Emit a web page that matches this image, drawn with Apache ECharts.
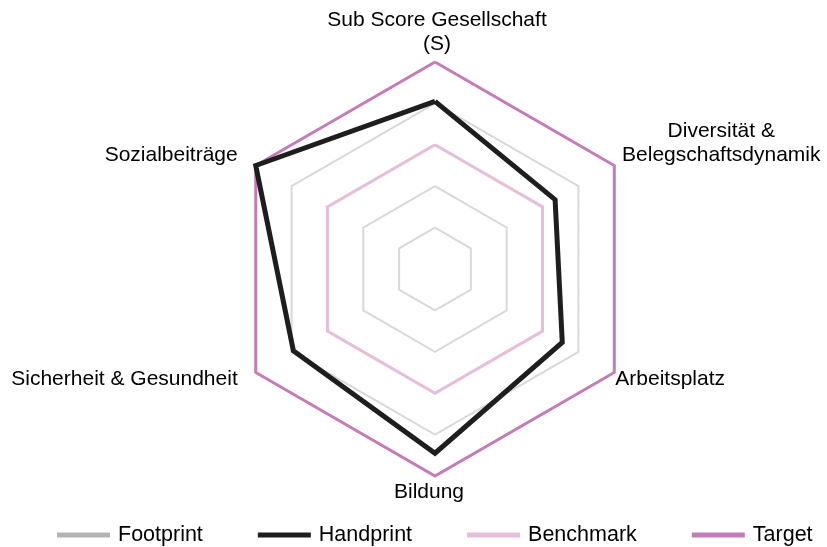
<!DOCTYPE html>
<html>
<head>
<meta charset="utf-8">
<script src="https://cdn.jsdelivr.net/npm/echarts@6/dist/echarts.min.js"></script>
<style>html,body{margin:0;padding:0;background:#fff}#c{width:827px;height:547px}</style>
</head>
<body>
<div id="c"></div>
<script>
// Indicators in ECharts order (top, then counter-clockwise)
var indicators = ['Sub Score Gesellschaft\n(S)', 'Sozialbeiträge', 'Sicherheit & Gesundheit', 'Bildung', 'Arbeitsplatz', 'Diversität &\nBelegschaftsdynamik'];
var seriesNames = ['Footprint', 'Handprint', 'Benchmark', 'Target'];
var footprint = [];
var handprint = [0.81, 1.0, 0.79, 0.89, 0.71, 0.67];
var benchmark = [0.6, 0.6, 0.6, 0.6, 0.6, 0.6];
var target = [1, 1, 1, 1, 1, 1];
var maxValue = 1;

var colors = {Footprint: '#b3b3b3', Handprint: '#1e1e1e', Benchmark: '#e6bedb', Target: '#c47bb7'};
var widths = {Footprint: 4, Handprint: 5, Benchmark: 3, Target: 3};

var cx = 435, cy = 269, R = 207;
var font = '"Liberation Sans", Arial, sans-serif';

// label placement per indicator: [extra radial gap, dx, dy, align, verticalAlign]
var labelPlace = [
  [6, 2, 0, 'center', 'bottom'],
  [0, -18, -10, 'right', 'middle'],
  [0, -18, 7, 'right', 'middle'],
  [4, -6, 0, 'center', 'top'],
  [0, 1, 7, 'left', 'middle'],
  [0, 107, -22, 'center', 'middle']
];

var graphics = indicators.map(function (name, i) {
  var ang = Math.PI / 2 + i * 2 * Math.PI / indicators.length;
  var p = labelPlace[i];
  var x = cx + (R + p[0]) * Math.cos(ang) + p[1];
  var y = cy - (R + p[0]) * Math.sin(ang) + p[2];
  return {
    type: 'text', x: x, y: y, silent: true,
    style: {text: name, fill: '#000', font: '21px ' + font, align: p[3], verticalAlign: p[4], lineHeight: 24}
  };
});

function mk(name, data, z) {
  return {
    type: 'radar', name: name, z: z, symbol: 'none',
    lineStyle: {color: colors[name], width: widths[name], join: 'miter'},
    itemStyle: {color: colors[name]},
    data: data.length ? [{value: data, name: name}] : []
  };
}

var chart = echarts.init(document.getElementById('c'), null, {renderer: 'canvas'});
chart.setOption({
  animation: false,
  backgroundColor: '#fff',
  color: seriesNames.map(function (n) { return colors[n]; }),
  legend: {
    data: seriesNames.map(function (n) { return {name: n, icon: 'rect', itemStyle: {color: colors[n]}}; }),
    top: 519, left: 52,
    itemWidth: 53, itemHeight: 5, itemGap: 55,
    textStyle: {fontSize: 21.5, fontFamily: font, color: '#000', padding: [0, 0, 0, 3]}
  },
  radar: {
    center: [cx, cy], radius: R, startAngle: 90, shape: 'polygon', splitNumber: 5,
    indicator: indicators.map(function (n) { return {name: n, max: maxValue, min: 0}; }),
    axisName: {show: false},
    axisLine: {show: false}, axisTick: {show: false}, axisLabel: {show: false},
    splitArea: {show: false},
    splitLine: {lineStyle: {color: '#d9d9d9', width: 2}}
  },
  graphic: graphics,
  series: [
    mk('Target', target, 2),
    mk('Benchmark', benchmark, 3),
    mk('Footprint', footprint, 4),
    mk('Handprint', handprint, 5)
  ]
});
</script>
</body>
</html>
